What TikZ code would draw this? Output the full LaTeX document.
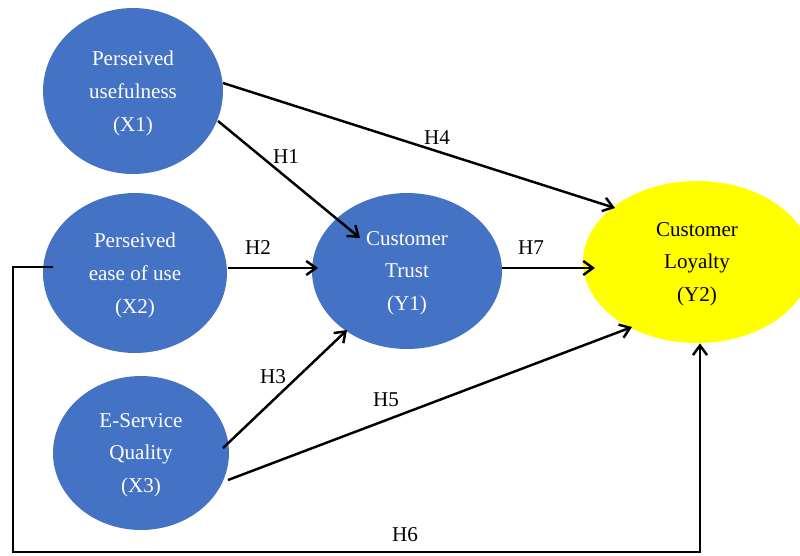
\documentclass[tikz,border=0pt]{standalone}
\usepackage{fontspec}
\setmainfont{Liberation Serif}
\usepackage{xcolor}
\usetikzlibrary{shapes.geometric,arrows.meta,calc}
\definecolor{constructblue}{HTML}{4472C4}
\definecolor{loyaltyyellow}{HTML}{FFFF00}

\begin{document}
\begin{tikzpicture}[x=0.02cm,y=-0.02cm,
    construct/.style={ellipse,fill=constructblue,text=white,inner sep=0pt,
      align=center,text depth=-2pt,font=\fontsize{12}{18.7}\selectfont},
    link/.style={line width=1.4pt,-{Straight Barb[length=5.5pt,width=8pt]}},
    hyp/.style={font=\fontsize{12}{14}\selectfont}]
    \useasboundingbox (0,0) rectangle (800,555);
    \node[construct,minimum width=3.6cm,minimum height=3.32cm] (X1) at (133,91)
      {Perseived\\usefulness\\(X1)};
    \node[construct,minimum width=3.68cm,minimum height=3.2cm] (X2) at (135,273)
      {Perseived\\ease of use\\(X2)};
    \node[construct,minimum width=3.52cm,minimum height=3.08cm] (X3) at (141,453)
      {E-Service\\Quality\\(X3)};
    \node[construct,minimum width=3.8cm,minimum height=3.12cm] (Y1) at (407,271)
      {Customer\\Trust\\(Y1)};
    \node[construct,fill=loyaltyyellow,text=black,
      minimum width=4.56cm,minimum height=3.24cm] (Y2) at (697,262)
      {Customer\\Loyalty\\(Y2)};
    \coordinate (corner) at (13,552);
    \draw[link] ($(X1)+(85,30)$) -- ($(Y1)+(-47,-33)$);
    \draw[link] ($(X2)+(93,-5)$) -- ($(Y1)+(-89,-3)$);
    \draw[link] ($(X3)+(82,-5)$) -- ($(Y1)+(-60,59)$);
    \draw[link] ($(X1)+(90,-8)$) -- ($(Y2)+(-82,-54)$);
    \draw[link] ($(X3)+(87,27)$) -- ($(Y2)+(-65,65)$);
    \draw[link] ($(X2)+(-82,-6)$) -| (corner) -| ($(Y2.south)+(3,0)$);
    \draw[link] ($(Y1)+(95,-3)$) -- ($(Y2)+(-102,6)$);
    \node[hyp] (h1) at (286,157) {H1};
    \node[hyp] (h2) at (258,248) {H2};
    \node[hyp] (h3) at (273,377) {H3};
    \node[hyp] (h4) at (437,138) {H4};
    \node[hyp] (h5) at (386,400) {H5};
    \node[hyp] (h6) at (405,535) {H6};
    \node[hyp] (h7) at (531,248) {H7};
  \end{tikzpicture}
\end{document}
